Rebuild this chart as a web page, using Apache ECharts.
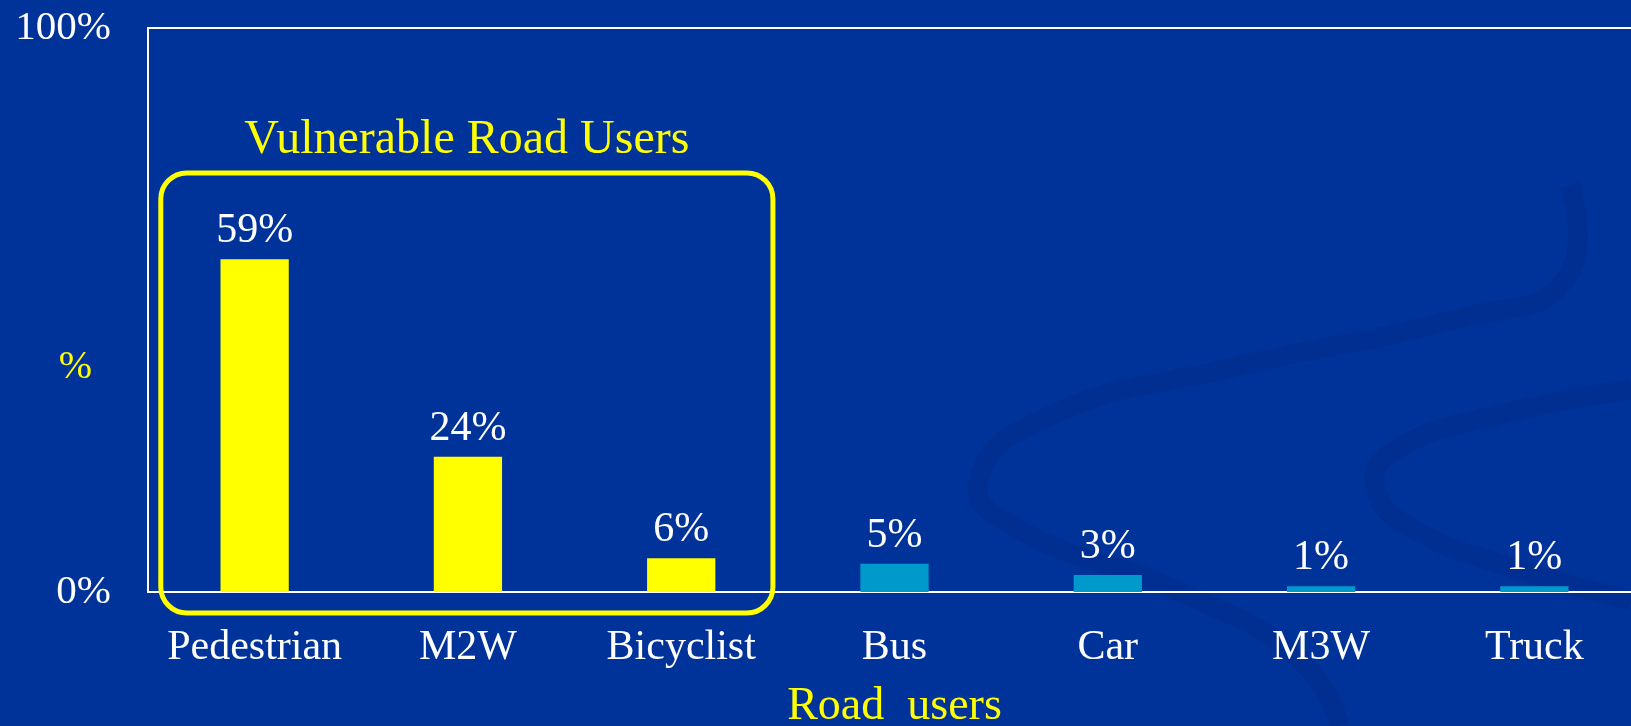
<!DOCTYPE html>
<html lang="en">
<head>
    <meta charset="UTF-8">
    <title>Road users</title>
    <script src="https://cdn.jsdelivr.net/npm/echarts@6/dist/echarts.min.js"></script>
    <style type="text/css">
    html, body {
        margin: 0;
        padding: 0;
        background: #003399;
    }
    #chart {
        width: 1631px;
        height: 726px;
    }
    </style>
</head>
<body>
<div id="chart"></div>
<script type="text/javascript">
    // data
    var categories = ['Pedestrian', 'M2W', 'Bicyclist', 'Bus', 'Car', 'M3W', 'Truck'];
    var shares = [59, 24, 6, 5, 3, 1, 1];
    var vulnerable = ['Pedestrian', 'M2W', 'Bicyclist'];
    var yTicks = [0, 100];

    var serif = "'Liberation Serif', 'Times New Roman', serif";
    var yellow = '#ffff00';
    var swirl = 'rgba(0,35,120,0.22)';
    var myChart = echarts.init(document.getElementById('chart'));

    option = {
      backgroundColor: '#003399',
      animation: false,
      grid: {
        left: 148,
        top: 28,
        width: 1493,
        height: 564,
        outerBoundsMode: 'none',
        containLabel: false,
        show: true,
        borderColor: '#ffffff',
        borderWidth: 2,
        backgroundColor: 'transparent'
      },
      xAxis: {
        type: 'category',
        data: categories,
        name: 'Road  users',
        nameLocation: 'middle',
        nameGap: 92,
        nameTextStyle: { color: yellow, fontFamily: serif, fontSize: 46 },
        axisLine: { lineStyle: { color: '#ffffff', width: 2 } },
        axisTick: { show: false },
        axisLabel: { color: '#ffffff', fontFamily: serif, fontSize: 42, margin: 35, interval: 0 }
      },
      yAxis: {
        type: 'value',
        min: yTicks[0],
        max: yTicks[1],
        interval: yTicks[1] - yTicks[0],
        splitLine: { show: false },
        axisLine: { show: false },
        axisTick: { show: false },
        axisLabel: {
          color: '#ffffff', fontFamily: serif, fontSize: 41, margin: 37,
          padding: [16, 0, 0, 0],
          formatter: '{value}%'
        }
      },
      series: [{
        type: 'bar',
        data: shares,
        barWidth: '32%',
        itemStyle: {
          color: function (p) {
            return vulnerable.indexOf(p.name) >= 0 ? yellow : '#0099cc';
          }
        },
        label: {
          show: true,
          position: 'top',
          distance: 7,
          color: '#ffffff',
          fontFamily: serif,
          fontSize: 42,
          formatter: '{c}%'
        }
      }]
    };
    myChart.setOption(option);

    // highlight box round the vulnerable road users
    var band = 1493 / categories.length;
    var x0 = myChart.convertToPixel({ xAxisIndex: 0 }, vulnerable[0]) - band * 0.44;
    var x1 = myChart.convertToPixel({ xAxisIndex: 0 }, vulnerable[vulnerable.length - 1]) + band * 0.43;
    var yTop = myChart.convertToPixel({ yAxisIndex: 0 }, 74.3);
    var yBase = myChart.convertToPixel({ yAxisIndex: 0 }, 0);

    myChart.setOption({
      graphic: [
        // faint swirls in the slide background
        {
          type: 'polyline', silent: true, z: -1,
          shape: {
            points: [[1570, 185], [1565, 280], [1460, 318], [1230, 368], [1045, 418], [978, 483], [1020, 530], [1180, 592], [1300, 660], [1340, 726]],
            smooth: 0.5
          },
          style: { stroke: swirl, lineWidth: 20, fill: null }
        },
        {
          type: 'polyline', silent: true, z: -1,
          shape: {
            points: [[1631, 390], [1506, 413], [1392, 452], [1376, 490], [1415, 530], [1520, 570], [1631, 600]],
            smooth: 0.5
          },
          style: { stroke: swirl, lineWidth: 20, fill: null }
        },
        {
          type: 'rect', silent: true, z: 10,
          shape: { x: x0, y: yTop, width: x1 - x0, height: yBase + 21 - yTop, r: 26 },
          style: { stroke: yellow, lineWidth: 5, fill: null }
        },
        {
          type: 'text', silent: true, z: 10,
          x: (x0 + x1) / 2, y: yTop - 9,
          style: {
            text: 'Vulnerable Road Users', fill: yellow, font: '48px ' + serif,
            textAlign: 'center', textVerticalAlign: 'bottom'
          }
        },
        {
          type: 'text', silent: true, z: 10,
          x: 92, y: 367,
          style: {
            text: '%', fill: yellow, font: '40px ' + serif,
            textAlign: 'right', textVerticalAlign: 'middle'
          }
        }
      ]
    });
</script>
</body>
</html>
